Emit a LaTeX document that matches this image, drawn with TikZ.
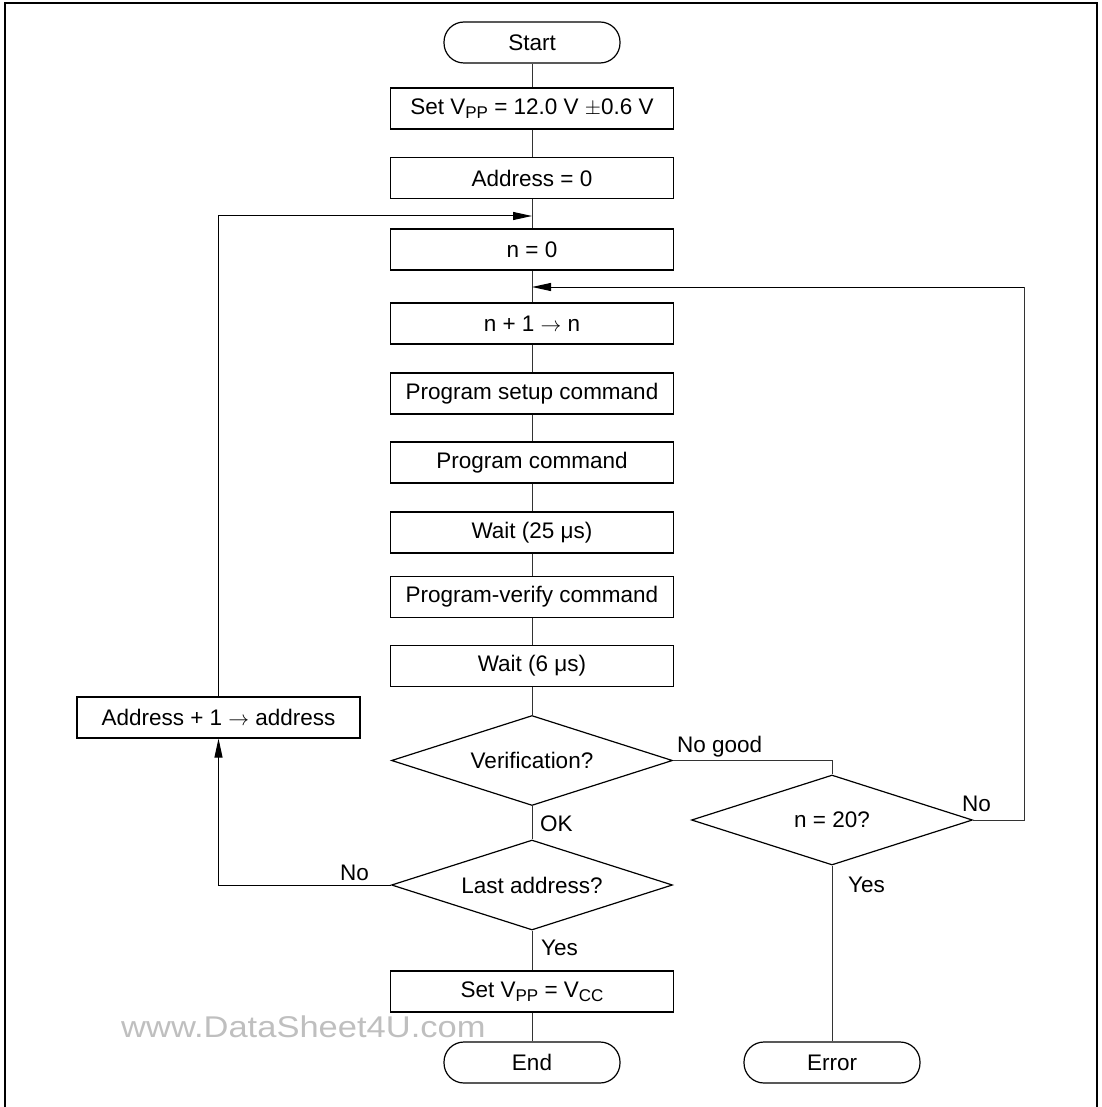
\documentclass[tikz,border=0pt]{standalone}
\usepackage{fontspec}
\setmainfont{Liberation Sans}
\usetikzlibrary{
    arrows.meta,
    positioning,
    calc,
    shapes.geometric
}
\newcommand{\lowsub}[1]{\raisebox{-0.3ex}{\fontsize{17}{20}\selectfont #1}}
\tikzset{
    % --- Process box ---
    procbox/.style = {
        rectangle, draw, line width=1.2pt,
        minimum width=283pt, minimum height=41pt,
        inner sep=0pt, align=center
    },
    % --- Start / end terminal ---
    terminal/.style = {
        rectangle, draw, line width=1.2pt, rounded corners=20pt,
        minimum width=176pt, minimum height=41pt,
        inner sep=0pt
    },
    % --- Decision diamond ---
    decision/.style = {
        diamond, draw, line width=1.2pt, aspect=3.1,
        minimum width=281pt, minimum height=90pt,
        inner sep=0pt
    },
    % --- Branch label ---
    branch/.style = {
        anchor=base west, inner sep=0pt
    },
    % --- Plain flow line ---
    flow/.style = {
        line width=1pt, black!80
    },
    % --- Flow line with arrow ---
    flow arrow/.style = {
        line width=1pt, -{Triangle[length=19pt, width=8pt]}
    },
    % --- Watermark ---
    watermark/.style = {
        text=black!25, font=\fontsize{30}{36}\selectfont,
        anchor=base west, inner sep=0pt, xscale=1.15
    }
}

\begin{document}
\begin{tikzpicture}[
    x=1pt, y=-1pt,
    font=\fontsize{22.5}{27}\selectfont
]
\useasboundingbox (0,0) rectangle (1101,1107);

% ---------------------------------------------------------
% Frame
% ---------------------------------------------------------
\draw[line width=1.5pt] (5,1110) -- (5,3) -- (1097,3) -- (1097,1110);

% ---------------------------------------------------------
% Main column
% ---------------------------------------------------------
\node[terminal] (start) at (532, 42.5) {Start};
\node[procbox] (vpp) at (532, 108.5) {Set V\lowsub{PP} = 12.0 V $\pm$0.6 V};
\node[procbox] (addr) at (532, 178) {Address = 0};
\node[procbox] (nzero) at (532, 249.5) {n = 0};
\node[procbox] (ninc) at (532, 323.5) {n + 1 $\rightarrow$ n};
\node[procbox] (setup) at (532, 393.5) {Program setup command};
\node[procbox] (prog) at (532, 462.5) {Program command};
\node[procbox] (waitA) at (532, 532.5) {Wait (25 μs)};
\node[procbox] (pverify) at (532, 597) {Program-verify command};
\node[procbox] (waitB) at (532, 666) {Wait (6 μs)};
\node[decision] (verif) at (532, 760.5) {Verification?};
\node[decision] (last) at (532, 885) {Last address?};
\node[procbox] (vcc) at (532, 991.5) {Set V\lowsub{PP} = V\lowsub{CC}};
\node[terminal] (end) at (532, 1062.5) {End};

% ---------------------------------------------------------
% Side branches
% ---------------------------------------------------------
\node[procbox] (addrinc) at (218.5, 717.5) {Address + 1 $\rightarrow$ address};
\node[decision] (ntwenty) at (832, 820) {n = 20?};
\node[terminal] (error) at (832, 1062.5) {Error};

% Loop join points on the main line
\coordinate (joinA) at (532, 216);
\coordinate (joinB) at (532, 287);
\coordinate (retB) at (1024, 287);

% ---------------------------------------------------------
% Flow lines
% ---------------------------------------------------------
\foreach \a/\b in {start/vpp, vpp/addr, addr/nzero, nzero/ninc, ninc/setup,
                   setup/prog, prog/waitA, waitA/pverify, pverify/waitB,
                   waitB/verif, verif/last, last/vcc, vcc/end, ntwenty/error} {
    \draw[flow] (\a) -- (\b);
}
\draw[flow] (verif.east) -| (ntwenty.north);

% Address loop
\draw[flow arrow] (last.west) -| (addrinc.south);
\draw[flow arrow] (addrinc.north) |- (joinA);

% Retry loop
\draw[flow] (ntwenty.east) -| (retB);
\draw[flow arrow] (retB) -- (joinB);

% ---------------------------------------------------------
% Branch labels
% ---------------------------------------------------------
\node[branch] (lblNG) at (677, 752) {No good};
\node[branch] (lblNo) at (962, 811) {No};
\node[branch] (lblOK) at (540, 831) {OK};
\node[branch] (lblYesA) at (848, 892) {Yes};
\node[branch] (lblYesB) at (541, 955) {Yes};
\node[branch] (lblNoL) at (340, 880) {No};

% Watermark
\node[watermark] (wm) at (121, 1037) {www.DataSheet4U.com};

\end{tikzpicture}
\end{document}
